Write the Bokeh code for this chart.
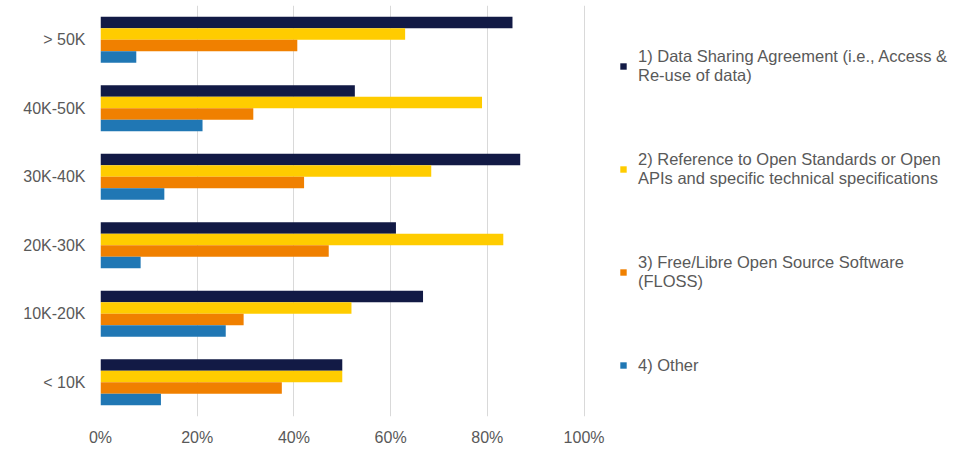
from bokeh.plotting import figure
from bokeh.models import (ColumnDataSource, Legend, LegendItem, NumeralTickFormatter,
                          FixedTicker, Range1d)
from bokeh.transform import dodge
from bokeh.embed import file_html
from bokeh.resources import INLINE

categories = ["< 10K", "10K-20K", "20K-30K", "30K-40K", "40K-50K", "> 50K"]
data_sharing = [0.500, 0.667, 0.611, 0.868, 0.526, 0.852]
open_standards = [0.500, 0.519, 0.833, 0.684, 0.789, 0.630]
floss = [0.375, 0.296, 0.472, 0.421, 0.316, 0.407]
other = [0.125, 0.259, 0.083, 0.132, 0.211, 0.074]

series_labels = [
    "1) Data Sharing Agreement (i.e., Access &\nRe-use of data)",
    "2) Reference to Open Standards or Open\nAPIs and specific technical specifications",
    "3) Free/Libre Open Source Software\n(FLOSS)",
    "4) Other",
]
series_keys = ["ds", "os", "fl", "ot"]
colors = ["#121A45", "#FFCC00", "#F08000", "#2077B4"]
offsets = [0.252, 0.084, -0.084, -0.252]
x_ticks = [0, 0.2, 0.4, 0.6, 0.8, 1.0]

source = ColumnDataSource(dict(cat=categories, ds=data_sharing, os=open_standards,
                               fl=floss, ot=other))

FONT = "Liberation Sans"
TXT = "#595959"

p = figure(frame_width=485, frame_height=411, y_range=categories, x_range=Range1d(0, 1.003),
           output_backend="svg", toolbar_location=None,
           min_border_left=100, min_border_right=0, min_border_top=5, min_border_bottom=30)

renderers = []
for key, col, off in zip(series_keys, colors, offsets):
    r = p.hbar(y=dodge("cat", off, range=p.y_range), right=key, left=0, height=0.168,
               source=source, fill_color=col, line_color=None)
    renderers.append(r)

p.xaxis.ticker = FixedTicker(ticks=x_ticks)
p.xaxis.formatter = NumeralTickFormatter(format="0%")
for ax in (p.xaxis, p.yaxis):
    ax.axis_line_color = None
    ax.major_tick_line_color = None
    ax.minor_tick_line_color = None
    ax.major_tick_in = 0
    ax.major_tick_out = 0
    ax.major_label_text_font = FONT
    ax.major_label_text_font_size = "16px"
    ax.major_label_text_color = TXT
p.xaxis.major_label_standoff = 12
p.yaxis.major_label_standoff = 15

p.xgrid.grid_line_color = "#D9D9D9"
p.xgrid.grid_line_width = 1
p.ygrid.grid_line_color = None
p.outline_line_color = None

legend = Legend(
    items=[LegendItem(label=lab, renderers=[r]) for lab, r in zip(series_labels, renderers)],
    location="left",
    label_text_font=FONT, label_text_font_size="16.5px", label_text_color=TXT,
    label_text_line_height=1.22,
    glyph_width=8, glyph_height=8, label_standoff=11, spacing=65,
    margin=34, padding=3, border_line_color=None, background_fill_alpha=0,
)
p.add_layout(legend, "right")

open("out.html", "w").write(file_html(p, INLINE))
